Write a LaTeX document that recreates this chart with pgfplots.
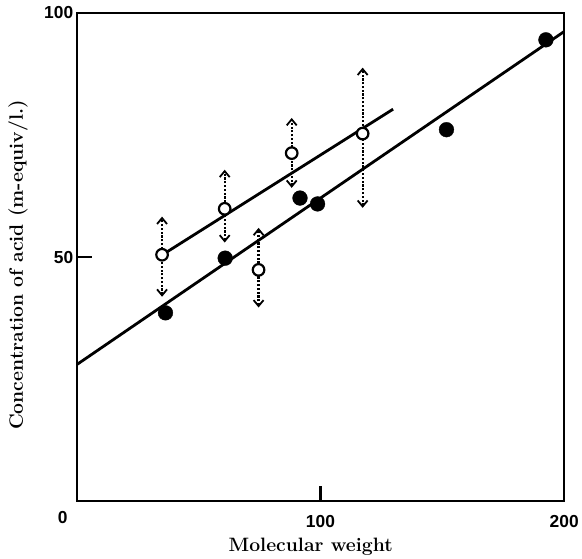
\documentclass[border=0pt]{standalone}
\usepackage{fontspec}
\usepackage{pgfplots}
\pgfplotsset{compat=1.18}
\usetikzlibrary{arrows.meta}
\newfontfamily\arialf{Liberation Sans}

\pgfplotstableread{
mw c
36.4 38.6
60.9 49.8
91.6 62.1
98.8 60.9
151.7 76.1
192.5 94.5
}\filled

\pgfplotstableread{
mw c
35.0 50.5
60.7 59.9
74.6 47.4
88.2 71.3
117.3 75.3
}\open

\tikzset{rangearrow/.style={mark=none, line width=2.2bp, dash pattern=on 2.2bp off 1.6bp,
  {Straight Barb[length=6bp,width=10bp,line width=1.8bp]}-{Straight Barb[length=6bp,width=10bp,line width=1.8bp]}}}

\begin{document}
\begin{tikzpicture}
\begin{axis}[
  scale only axis, width=489bp, height=490bp,
  xmin=0, xmax=200, ymin=0, ymax=100,
  axis line style={line width=1.8bp},
  xtick={100,200}, ytick={50,100},
  xtick pos=bottom, ytick pos=left,
  tick align=inside,
  major tick length=15bp,
  every tick/.style={line width=2.2bp, black},
  /pgf/number format/assume math mode=true,
  tick label style={font=\arialf\bfseries\fontsize{17.5}{20}\selectfont},
  xticklabel style={yshift=-10bp},
  extra x ticks={0}, extra x tick labels={0},
  extra x tick style={major tick length=0pt, xticklabel style={xshift=-14bp, yshift=4bp}},
  xlabel={Molecular weight},
  ylabel={Concentration of acid (m-equiv/l.)},
  every axis x label/.style={at={(axis description cs:0.48,0)}, anchor=base, yshift=-50bp, font=\bfseries\fontsize{19.5}{22}\selectfont},
  every axis y label/.style={at={(axis description cs:-0.1207,0.484)}, rotate=90, anchor=center, font=\bfseries\fontsize{19.5}{22}\selectfont},
]
% dotted range arrows
\addplot[rangearrow] coordinates {(35.0,41.9) (35.0,58.3)};
\addplot[rangearrow] coordinates {(60.7,53.0) (60.7,67.9)};
\addplot[rangearrow] coordinates {(74.6,39.7) (74.6,56.0)};
\addplot[rangearrow] coordinates {(88.2,64.2) (88.2,78.5)};
\addplot[rangearrow] coordinates {(117.3,60.1) (117.3,88.8)};
% fitted lines
\addplot[mark=none, black, line width=2.8bp] coordinates {(0,28.0) (200,96.2)};
\addplot[mark=none, black, line width=2.8bp] coordinates {(35.5,50.6) (129.8,80.3)};
% points
\addplot[only marks, mark=*, mark size=7.4bp, black] table[x=mw, y=c] {\filled};
\addplot[only marks, mark=*, mark size=5.8bp, mark options={draw=black, fill=white, line width=2.2bp}] table[x=mw, y=c] {\open};
\end{axis}
\path ([xshift=-77bp, yshift=-57bp]current axis.south west) rectangle ([xshift=16bp, yshift=13bp]current axis.north east);
\end{tikzpicture}
\end{document}
